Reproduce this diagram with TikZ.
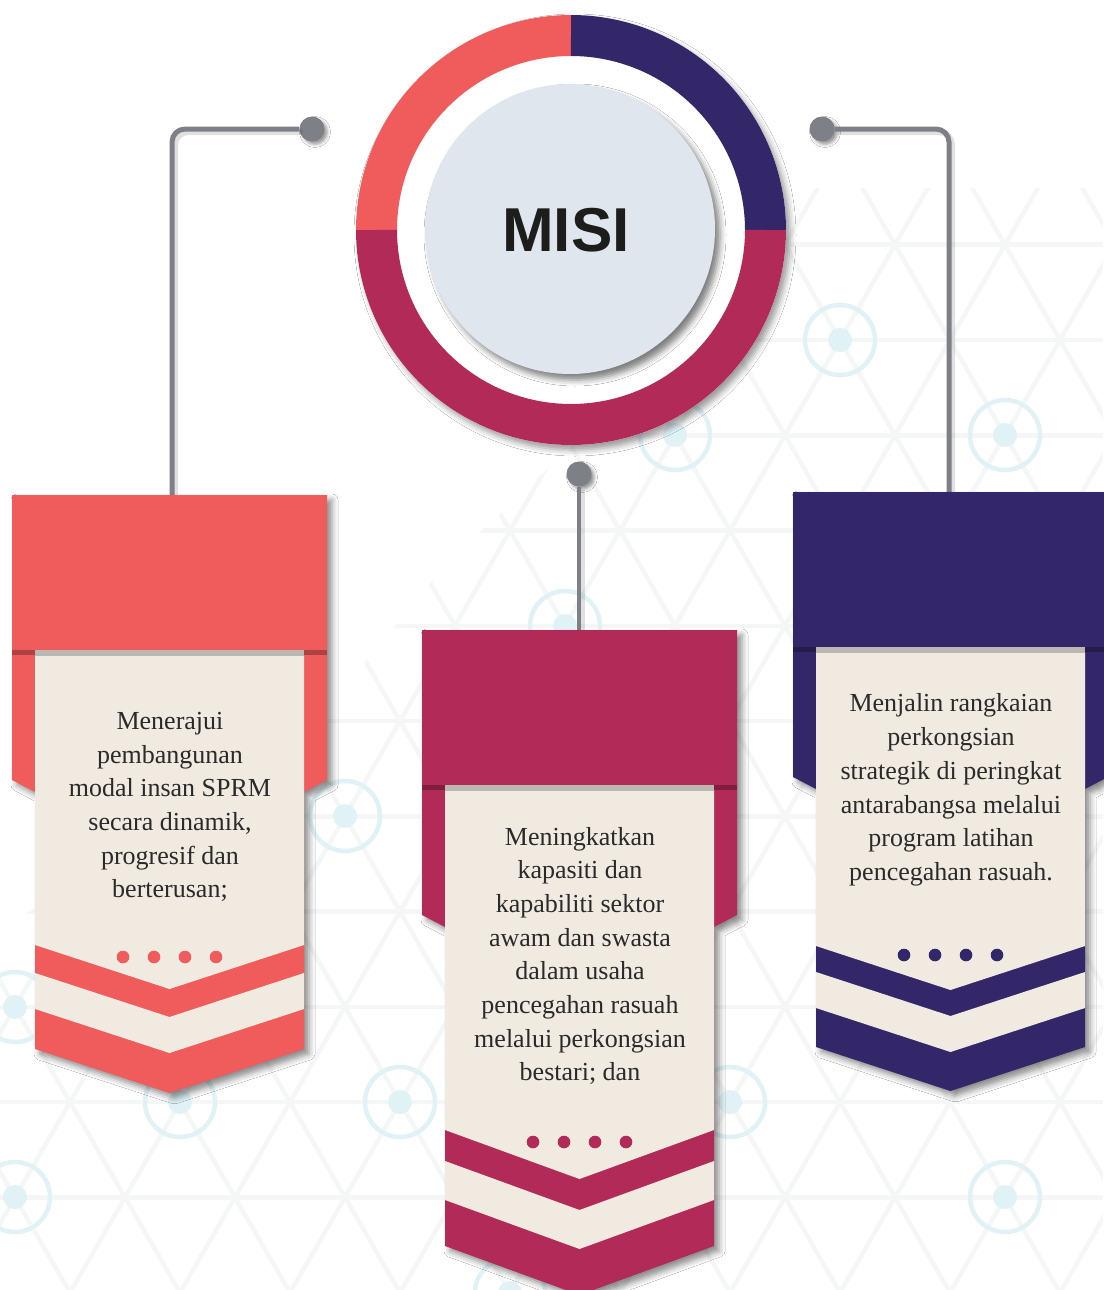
\documentclass[tikz,border=0pt]{standalone}
\usepackage{fontspec}
\setmainfont{Liberation Serif}
\newfontfamily\misifont{Liberation Sans}
\usetikzlibrary{shadows.blur}

\definecolor{coral}{HTML}{F05C5C}
\definecolor{crimson}{HTML}{B22A58}
\definecolor{navy}{HTML}{33276A}
\definecolor{cream}{HTML}{F0EAE0}
\definecolor{stripgray}{HTML}{BBB8B1}
\definecolor{conngray}{HTML}{7D8087}
\definecolor{innerfill}{HTML}{DFE6EE}
\definecolor{hexline}{HTML}{F5F7F7}
\definecolor{hexring}{HTML}{E0F2F6}
\definecolor{textdark}{HTML}{2A2A2A}
\definecolor{misidark}{HTML}{1D1D1B}

\tikzset{
 bshadow/.style={blur shadow={shadow xshift=5pt, shadow yshift=-5pt, shadow blur radius=6pt, shadow opacity=45}},
 hexgrid/.style={draw=hexline, line width=4.5pt},
 hexmark/.style={draw=hexring, line width=4.5pt},
 conn/.style={draw=conngray, line width=5pt, rounded corners=13pt},
 connshadow/.style={draw=black, draw opacity=0.12, line width=6pt, rounded corners=13pt},
 conndot/.style={circle, fill=conngray, minimum size=25pt, inner sep=0pt,
   blur shadow={shadow xshift=3pt, shadow yshift=-3pt, shadow blur radius=3pt, shadow opacity=40}},
 bodytext/.style={font=\fontsize{26}{33.7}\selectfont, align=center, text=textdark, inner sep=0pt},
}

% #1 xL, #2 B, #3-#6 chevron side edges, #7 depth, #8 colour, #9 dot y
\newcommand{\drawbanner}[9]{%
 \pgfmathsetmacro{\bxa}{#1}%
 \pgfmathsetmacro{\bxb}{#1+23}%
 \pgfmathsetmacro{\bxc}{#1+157.5}%
 \pgfmathsetmacro{\bxd}{#1+292}%
 \pgfmathsetmacro{\bxe}{#1+315}%
 \pgfmathsetmacro{\bya}{#2-155}%
 \pgfmathsetmacro{\byf}{#2+130}%
 \pgfmathsetmacro{\byg}{#2+142}%
 \pgfmathsetmacro{\bpa}{#3+#7}%
 \pgfmathsetmacro{\bpb}{#4+#7}%
 \pgfmathsetmacro{\bpc}{#5+#7}%
 \pgfmathsetmacro{\bpd}{#6+#7}%
 \fill[#8, bshadow] (\bxa,\bya) -- (\bxe,\bya) -- (\bxe,\byf) -- (\bxd,\byg) -- (\bxd,#6)
   -- (\bxc,\bpd) -- (\bxb,#6) -- (\bxb,\byg) -- (\bxa,\byf) -- cycle;
 \fill[cream] (\bxb,#2) -- (\bxd,#2) -- (\bxd,#3) -- (\bxc,\bpa) -- (\bxb,#3) -- cycle;
 \fill[cream] (\bxb,#4) -- (\bxc,\bpb) -- (\bxd,#4) -- (\bxd,#5) -- (\bxc,\bpc) -- (\bxb,#5) -- cycle;
 \fill[stripgray] (\bxb,#2) rectangle (\bxd,#2+6);
 \fill[#8!72!black] (\bxa,#2) rectangle (\bxb,#2+5);
 \fill[#8!72!black] (\bxd,#2) rectangle (\bxe,#2+5);
 \foreach \dx in {-46.5,-15.5,15.5,46.5} \fill[#8] (\bxc+\dx,#9) circle[radius=6.3];
}

\begin{document}
\begin{tikzpicture}[x=1pt,y=-1pt]
\useasboundingbox (0,0) rectangle (1103,1290);
\fill[white] (0,0) rectangle (1103,1290);

% faint background lattice
\begin{scope}
 \clip (600,188) -- (1103,188) -- (1103,1290) -- (0,1290) -- (0,930) -- (300,740) -- (450,560) -- (600,420) -- cycle;
 \foreach \k in {-13,...,4} \draw[hexgrid] ({840+110*\k-0.57735*160},180) -- ({840+110*\k+0.57735*960},1300);
 \foreach \k in {-9,...,9} \draw[hexgrid] ({840+110*\k+0.57735*160},180) -- ({840+110*\k-0.57735*960},1300);
 \foreach \j in {-1,...,10} \draw[hexgrid] (0,{340+95.26*\j}) -- (1103,{340+95.26*\j});
\end{scope}
\foreach \p in {(840,340),(1005,435),(675,435),(565,626),(345,816),(15,1007),(180,1102),(400,1102),(730,1102),(1005,1197),(15,1197),(510,1293)} {
 \draw[hexmark] \p circle[radius=35];
 \fill[hexring] \p circle[radius=12];
}

% connectors
\node[conndot] (ldot) at (312,129) {};
\node[conndot] (rdot) at (822,129) {};
\node[conndot] (mdot) at (579,474) {};
\coordinate (ltop) at (172,495);
\coordinate (rtop) at (949,493);
\coordinate (mtop) at (579,630);
\draw[connshadow, transform canvas={xshift=3pt, yshift=-3pt}] (ldot) -| (ltop);
\draw[connshadow, transform canvas={xshift=3pt, yshift=-3pt}] (rdot) -| (rtop);
\draw[connshadow, transform canvas={xshift=3pt, yshift=-3pt}] (mdot) -- (mtop);
\draw[conn] (ldot) -| (ltop);
\draw[conn] (rdot) -| (rtop);
\draw[conn, line width=4.5pt] (mdot) -- (mtop);

% central ring
\fill[white, blur shadow={shadow xshift=4pt, shadow yshift=-5pt, shadow blur radius=6pt, shadow opacity=40}] (571,230) circle[radius=215];
\draw[line width=41pt, coral] plot[domain=180:270, samples=90] ({571+194.5*cos(\x)}, {230+194.5*sin(\x)});
\draw[line width=41pt, navy] plot[domain=270:360, samples=90] ({571+194.5*cos(\x)}, {230+194.5*sin(\x)});
\draw[line width=41pt, crimson] plot[domain=0:180, samples=150] ({571+194.5*cos(\x)}, {230+194.5*sin(\x)});
\node[circle, fill=innerfill, minimum size=290pt, inner sep=0pt,
  blur shadow={shadow xshift=5pt, shadow yshift=-6pt, shadow blur radius=6pt, shadow opacity=50}] (inner) at (570,229) {};
\node[font=\misifont\bfseries\fontsize{62}{62}\selectfont, text=misidark, inner sep=0pt] (misi) at (566,230) {MISI};

% banners
\drawbanner{12}{650}{945}{973}{1009}{1049}{44}{coral}{957}
\drawbanner{422}{785}{1130}{1161}{1200}{1246}{49}{crimson}{1142}
\drawbanner{793}{647}{946}{972}{1008}{1047}{44}{navy}{955}

\node[bodytext] (t1) at (170,807) {Menerajui\\pembangunan\\modal insan SPRM\\secara dinamik,\\progresif dan\\berterusan;};
\node[bodytext] (t2) at (580,956) {Meningkatkan\\kapasiti dan\\kapabiliti sektor\\awam dan swasta\\dalam usaha\\pencegahan rasuah\\melalui perkongsian\\bestari; dan};
\node[bodytext] (t3) at (951,790) {Menjalin rangkaian\\perkongsian\\strategik di peringkat\\antarabangsa melalui\\program latihan\\pencegahan rasuah.};
\end{tikzpicture}
\end{document}
